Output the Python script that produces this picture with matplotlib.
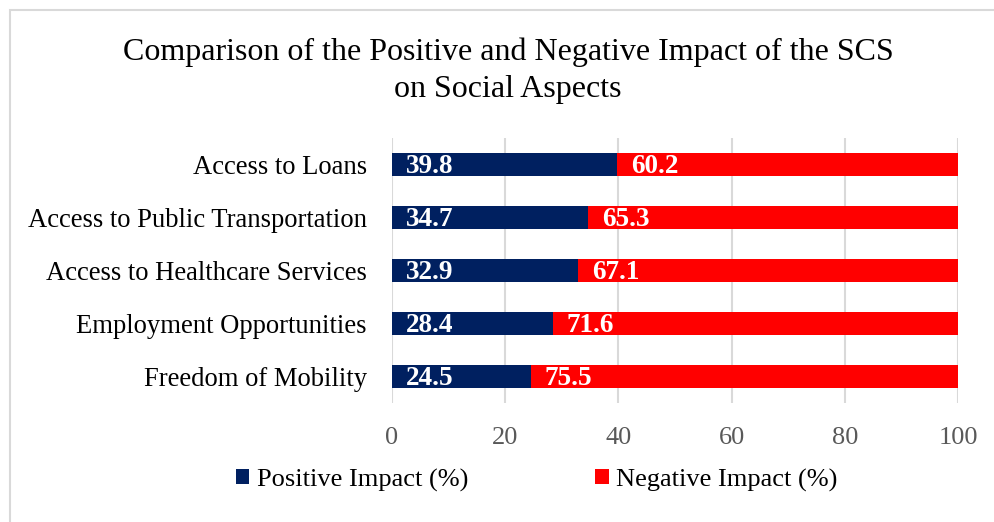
import matplotlib
matplotlib.use("Agg")
import matplotlib.pyplot as plt
from matplotlib.patches import Rectangle

categories = ["Freedom of Mobility", "Employment Opportunities", "Access to Healthcare Services",
              "Access to Public Transportation", "Access to Loans"]
positive = [24.5, 28.4, 32.9, 34.7, 39.8]
negative = [75.5, 71.6, 67.1, 65.3, 60.2]
xticks = [0, 20, 40, 60, 80, 100]

POS_C = "#002060"
NEG_C = "#FF0000"

plt.rcParams["font.family"] = ["Liberation Serif", "DejaVu Serif"]

fig = plt.figure(figsize=(9.94, 5.22), dpi=100)
ax = fig.add_axes([392/994, 1-403/522, 566/994, 265/522])

y = list(range(len(categories)))
h = 0.42
b1 = ax.barh(y, positive, height=h, color=POS_C, label="Positive Impact (%)", zorder=3)
b2 = ax.barh(y, negative, left=positive, height=h, color=NEG_C, label="Negative Impact (%)", zorder=3)

for i in y:
    ax.annotate(f"{positive[i]:.1f}", (0, i), xytext=(14, -2), textcoords="offset pixels",
                ha="left", va="center", color="white", fontsize=19.5, fontweight="bold", zorder=4)
    ax.annotate(f"{negative[i]:.1f}", (positive[i], i), xytext=(14, -2), textcoords="offset pixels",
                ha="left", va="center", color="white", fontsize=19.5, fontweight="bold", zorder=4)

ax.set_xlim(0, 100)
ax.set_ylim(-0.5, len(categories) - 0.5)
ax.set_xticks(xticks)
ax.set_xticklabels([str(t) for t in xticks])
ax.set_yticks(y)
ax.set_yticklabels(categories)
ax.tick_params(axis="x", length=0, labelsize=19, labelcolor="#595959", pad=17)
ax.tick_params(axis="y", length=0, labelsize=19.2, labelcolor="black", pad=18)
for s in ax.spines.values():
    s.set_visible(False)
ax.grid(axis="x", color="#d9d9d9", linewidth=1.5, zorder=0)

fig.text(508/994, 1-52/522, "Comparison of the Positive and Negative Impact of the SCS",
         ha="center", va="center", fontsize=23)
fig.text(508/994, 1-89/522, "on Social Aspects", ha="center", va="center", fontsize=23)

leg = fig.legend(handles=[b1, b2], loc="center", bbox_to_anchor=(537/994, 1-480/522), ncol=2,
                 frameon=False, fontsize=19, handlelength=0.5, handleheight=0.5,
                 handletextpad=0.3, columnspacing=4.8)

fig.patches.append(Rectangle((10/994, -0.1), 1.0, 1 - 10/522 + 0.1, transform=fig.transFigure,
                             fill=False, edgecolor="#d9d9d9", linewidth=1.5))

fig.savefig("out.png", dpi=100)
